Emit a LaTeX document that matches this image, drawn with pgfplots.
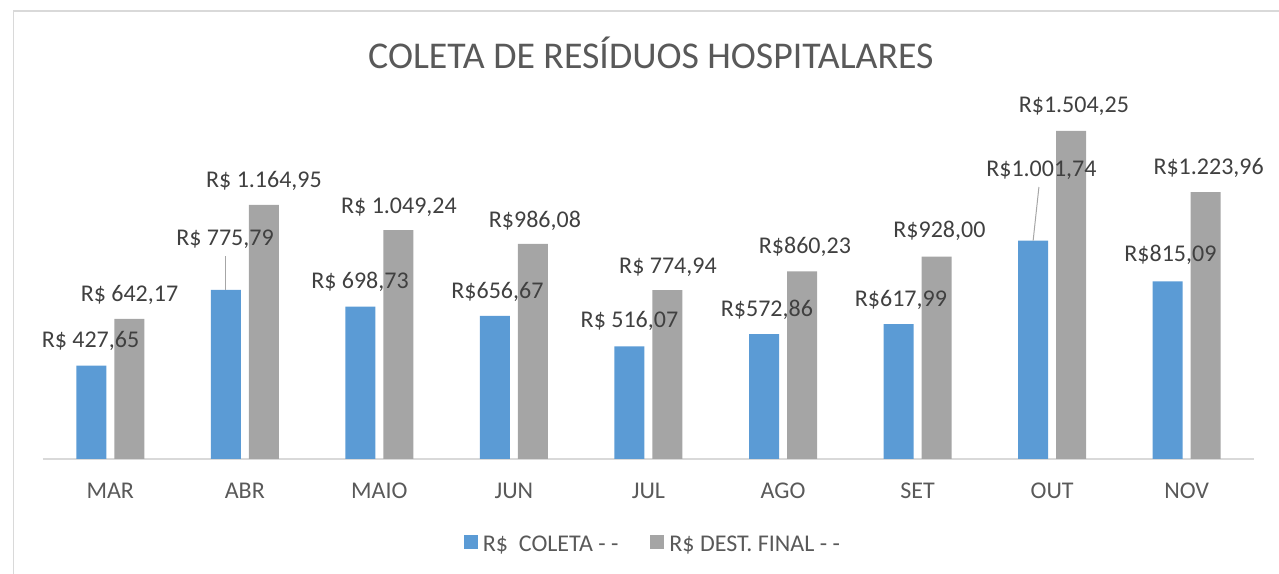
\documentclass[border=0pt]{standalone}
\usepackage{pgfplots}
\pgfplotsset{compat=1.18}
\usepackage{fontspec}
\setmainfont{Carlito}
\definecolor{txt}{HTML}{595959}
\definecolor{lbl}{HTML}{404040}
\definecolor{blueC}{HTML}{5B9BD5}
\definecolor{grayC}{HTML}{A5A5A5}
\definecolor{axisC}{HTML}{D9D9D9}
\definecolor{leadC}{HTML}{A6A6A6}
\newcommand{\lblfont}{\fontsize{24bp}{28bp}\selectfont}
\begin{document}
\begin{tikzpicture}[x=1bp,y=1bp]
\begin{axis}[
  scale only axis, width=1211bp, height=348.88bp,
  xmin=-0.5, xmax=8.5, ymin=0, ymax=1600,
  axis x line*=bottom, axis y line=none,
  x axis line style={draw=axisC, line width=1.5bp},
  xtick={0,...,8}, xticklabels={MAR,ABR,MAIO,JUN,JUL,AGO,SET,OUT,NOV},
  major tick length=0pt,
  xticklabel style={anchor=base, yshift=-39.3bp, font=\lblfont, text=txt},
  ytick=\empty,
  clip=false,
  title={COLETA DE RESÍDUOS HOSPITALARES},
  title style={at={(axis description cs:0.502,1.1034)}, anchor=base, font=\fontsize{37.8bp}{44bp}\selectfont, text=txt, inner sep=0pt},
  legend columns=2,
  legend cell align=left,
  legend style={at={(axis description cs:0.5037,-0.2436)}, anchor=center, draw=none, fill=none, font=\lblfont, text=txt, /tikz/every even column/.append style={column sep=30bp}},
]
\coordinate (O) at (axis cs:-0.5,0);
\addplot[ybar, bar width=30bp, bar shift=-19bp, fill=blueC, draw=none,
  legend image code/.code={\fill[blueC] (0bp,-5bp) rectangle (14bp,9bp); \path (17bp,0bp);}]
  coordinates {(0,427.65) (1,775.79) (2,698.73) (3,656.67) (4,516.07) (5,572.86) (6,617.99) (7,1001.74) (8,815.09)};
\addlegendentry{R\$~~COLETA - -}
\addplot[ybar, bar width=30bp, bar shift=19bp, fill=grayC, draw=none,
  legend image code/.code={\fill[grayC] (0bp,-5bp) rectangle (14bp,9bp); \path (17bp,0bp);}]
  coordinates {(0,642.17) (1,1164.95) (2,1049.24) (3,986.08) (4,774.94) (5,860.23) (6,928.00) (7,1504.25) (8,1223.96)};
\addlegendentry{R\$ DEST. FINAL - -}
\addplot[leadC, line width=1bp, forget plot] coordinates {(0.8588,775.79) (0.8588,931.0)};
\addplot[leadC, line width=1bp, forget plot] coordinates {(6.8588,1001.74) (6.9017,1247.4)};
\addplot[draw=none, forget plot, nodes near coords, point meta=explicit symbolic,
  every node near coord/.style={anchor=south, inner sep=0pt, text depth=0pt, font=\lblfont, text=lbl}]
  table[x=x, y=y, meta=label, col sep=semicolon] {
x;y;label
-0.1471;509.1;R\$ 427,65
0.1427;720.0;R\$ 642,17
0.8524;976.8;R\$ 775,79
1.1422;1245.1;R\$ 1.164,95
1.8557;780.6;R\$ 698,73
2.1455;1124.5;R\$ 1.049,24
2.8775;733.8;R\$656,67
3.1562;1061.7;R\$986,08
3.8585;603.1;R\$ 516,07
4.1446;850.7;R\$ 774,94
4.8804;653.5;R\$572,86
5.1627;940.1;R\$860,23
5.8762;699.4;R\$617,99
6.1623;1013.5;R\$928,00
6.9203;1293.3;R\$1.001,74
7.1618;1586.8;R\$1.504,25
7.879;903.5;R\$815,09
8.163;1302.4;R\$1.223,96
};
\end{axis}
\pgfresetboundingbox
\path[use as bounding box] ([shift={(-43,-115)}]O) rectangle ([shift={(1236,459)}]O);
\draw[axisC, line width=1.5bp] ([shift={(-29.5,-118)}]O) -- ([shift={(-29.5,448)}]O) -- ([shift={(1238,448)}]O);
\end{tikzpicture}
\end{document}
